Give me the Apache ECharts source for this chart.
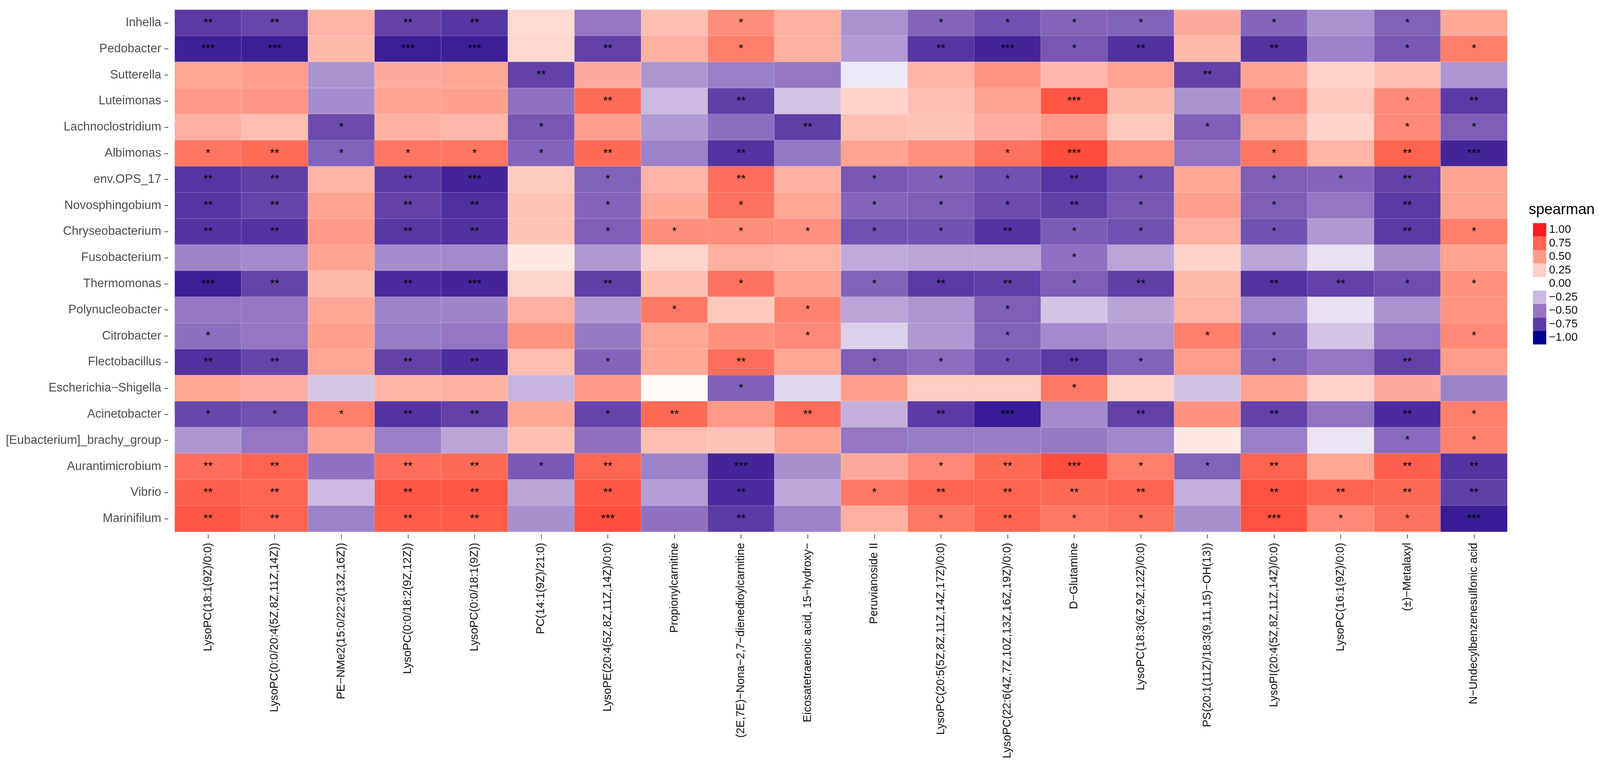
<!DOCTYPE html>
<html>
<head>
<meta charset="utf-8">
<script src="https://cdn.jsdelivr.net/npm/echarts@6/dist/echarts.min.js"></script>
<style>
  html, body { margin: 0; padding: 0; background: #fff; overflow: hidden; }
  #heatmap { width: 100vw; height: 100vh; }
</style>
</head>
<body>
<div id="heatmap"></div>
<script>
// metabolites along x, genera down y (top to bottom)
const metabolites = [
  'LysoPC(18:1(9Z)/0:0)', 'LysoPC(0:0/20:4(5Z,8Z,11Z,14Z))', 'PE−NMe2(15:0/22:2(13Z,16Z))',
  'LysoPC(0:0/18:2(9Z,12Z))', 'LysoPC(0:0/18:1(9Z))', 'PC(14:1(9Z)/21:0)',
  'LysoPE(20:4(5Z,8Z,11Z,14Z)/0:0)', 'Propionylcarnitine', '(2E,7E)−Nona−2,7−dienedioylcarnitine',
  'Eicosatetraenoic acid, 15−hydroxy−', 'Peruvianoside II', 'LysoPC(20:5(5Z,8Z,11Z,14Z,17Z)/0:0)',
  'LysoPC(22:6(4Z,7Z,10Z,13Z,16Z,19Z)/0:0)', 'D−Glutamine', 'LysoPC(18:3(6Z,9Z,12Z)/0:0)',
  'PS(20:1(11Z)/18:3(9,11,15)−OH(13))', 'LysoPI(20:4(5Z,8Z,11Z,14Z)/0:0)', 'LysoPC(16:1(9Z)/0:0)',
  '(±)−Metalaxyl', 'N−Undecylbenzenesulfonic acid'
];

const genera = [
  'Inhella', 'Pedobacter', 'Sutterella', 'Luteimonas', 'Lachnoclostridium', 'Albimonas',
  'env.OPS_17', 'Novosphingobium', 'Chryseobacterium', 'Fusobacterium', 'Thermomonas',
  'Polynucleobacter', 'Citrobacter', 'Flectobacillus', 'Escherichia−Shigella', 'Acinetobacter',
  '[Eubacterium]_brachy_group', 'Aurantimicrobium', 'Vibrio', 'Marinifilum'
];

// spearman rho, one row per genus
const rho = [
  [-0.75, -0.70, 0.38, -0.72, -0.77, 0.18, -0.50, 0.33, 0.56, 0.40, -0.40, -0.57, -0.66, -0.57, -0.58, 0.42, -0.57, -0.40, -0.58, 0.43],
  [-0.87, -0.88, 0.35, -0.88, -0.88, 0.20, -0.72, 0.40, 0.63, 0.40, -0.37, -0.77, -0.85, -0.63, -0.79, 0.35, -0.78, -0.46, -0.63, 0.63],
  [0.45, 0.48, -0.40, 0.42, 0.44, -0.72, 0.42, -0.39, -0.47, -0.50, -0.08, 0.38, 0.53, 0.36, 0.46, -0.72, 0.46, 0.23, 0.32, -0.39],
  [0.50, 0.52, -0.42, 0.46, 0.47, -0.52, 0.72, -0.25, -0.73, -0.21, 0.23, 0.33, 0.46, 0.82, 0.35, -0.40, 0.58, 0.28, 0.58, -0.75],
  [0.40, 0.33, -0.68, 0.39, 0.36, -0.63, 0.48, -0.38, -0.53, -0.73, 0.32, 0.31, 0.41, 0.50, 0.28, -0.59, 0.44, 0.23, 0.58, -0.60],
  [0.67, 0.72, -0.58, 0.67, 0.67, -0.57, 0.73, -0.46, -0.78, -0.49, 0.46, 0.54, 0.69, 0.86, 0.53, -0.51, 0.67, 0.38, 0.76, -0.85],
  [-0.77, -0.73, 0.38, -0.75, -0.85, 0.27, -0.58, 0.38, 0.71, 0.40, -0.63, -0.59, -0.66, -0.77, -0.66, 0.43, -0.60, -0.57, -0.72, 0.46],
  [-0.77, -0.71, 0.46, -0.72, -0.80, 0.31, -0.57, 0.43, 0.69, 0.44, -0.57, -0.60, -0.68, -0.73, -0.63, 0.47, -0.60, -0.50, -0.75, 0.46],
  [-0.78, -0.78, 0.50, -0.76, -0.79, 0.31, -0.60, 0.56, 0.56, 0.55, -0.66, -0.65, -0.78, -0.61, -0.66, 0.40, -0.65, -0.38, -0.75, 0.63],
  [-0.45, -0.43, 0.46, -0.42, -0.43, 0.10, -0.38, 0.22, 0.40, 0.38, -0.31, -0.33, -0.33, -0.52, -0.33, 0.23, -0.33, -0.10, -0.41, 0.46],
  [-0.88, -0.71, 0.35, -0.82, -0.85, 0.22, -0.73, 0.32, 0.69, 0.46, -0.58, -0.75, -0.73, -0.60, -0.73, 0.35, -0.78, -0.72, -0.67, 0.54],
  [-0.50, -0.50, 0.44, -0.46, -0.45, 0.40, -0.38, 0.66, 0.28, 0.61, -0.33, -0.39, -0.60, -0.21, -0.34, 0.38, -0.44, -0.10, -0.40, 0.53],
  [-0.53, -0.50, 0.47, -0.48, -0.50, 0.53, -0.49, 0.44, 0.54, 0.58, -0.16, -0.38, -0.58, -0.43, -0.39, 0.63, -0.58, -0.21, -0.50, 0.58],
  [-0.79, -0.71, 0.44, -0.72, -0.81, 0.33, -0.57, 0.43, 0.71, 0.44, -0.60, -0.54, -0.66, -0.75, -0.58, 0.49, -0.58, -0.50, -0.72, 0.49],
  [0.44, 0.41, -0.20, 0.37, 0.39, -0.27, 0.50, 0.03, -0.59, -0.14, 0.48, 0.26, 0.26, 0.66, 0.23, -0.22, 0.46, 0.23, 0.42, -0.46],
  [-0.69, -0.66, 0.63, -0.78, -0.72, 0.43, -0.71, 0.73, 0.51, 0.71, -0.29, -0.75, -0.89, -0.43, -0.72, 0.54, -0.72, -0.51, -0.82, 0.63],
  [-0.39, -0.50, 0.46, -0.47, -0.33, 0.32, -0.52, 0.33, 0.31, 0.46, -0.50, -0.48, -0.48, -0.49, -0.44, 0.10, -0.47, -0.09, -0.55, 0.61],
  [0.71, 0.76, -0.52, 0.71, 0.73, -0.62, 0.75, -0.46, -0.85, -0.41, 0.42, 0.58, 0.73, 0.86, 0.63, -0.58, 0.76, 0.44, 0.78, -0.78],
  [0.78, 0.75, -0.25, 0.82, 0.82, -0.33, 0.82, -0.36, -0.82, -0.32, 0.66, 0.76, 0.76, 0.73, 0.76, -0.29, 0.84, 0.76, 0.73, -0.73],
  [0.82, 0.76, -0.46, 0.79, 0.79, -0.41, 0.85, -0.52, -0.75, -0.46, 0.40, 0.66, 0.76, 0.66, 0.69, -0.41, 0.84, 0.58, 0.69, -0.89]
];

// significance marks, same layout as rho
const stars = [
  ['**', '**', '', '**', '**', '', '', '', '*', '', '', '*', '*', '*', '*', '', '*', '', '*', ''],
  ['***', '***', '', '***', '***', '', '**', '', '*', '', '', '**', '***', '*', '**', '', '**', '', '*', '*'],
  ['', '', '', '', '', '**', '', '', '', '', '', '', '', '', '', '**', '', '', '', ''],
  ['', '', '', '', '', '', '**', '', '**', '', '', '', '', '***', '', '', '*', '', '*', '**'],
  ['', '', '*', '', '', '*', '', '', '', '**', '', '', '', '', '', '*', '', '', '*', '*'],
  ['*', '**', '*', '*', '*', '*', '**', '', '**', '', '', '', '*', '***', '', '', '*', '', '**', '***'],
  ['**', '**', '', '**', '***', '', '*', '', '**', '', '*', '*', '*', '**', '*', '', '*', '*', '**', ''],
  ['**', '**', '', '**', '**', '', '*', '', '*', '', '*', '*', '*', '**', '*', '', '*', '', '**', ''],
  ['**', '**', '', '**', '**', '', '*', '*', '*', '*', '*', '*', '**', '*', '*', '', '*', '', '**', '*'],
  ['', '', '', '', '', '', '', '', '', '', '', '', '', '*', '', '', '', '', '', ''],
  ['***', '**', '', '**', '***', '', '**', '', '*', '', '*', '**', '**', '*', '**', '', '**', '**', '*', '*'],
  ['', '', '', '', '', '', '', '*', '', '*', '', '', '*', '', '', '', '', '', '', ''],
  ['*', '', '', '', '', '', '', '', '', '*', '', '', '*', '', '', '*', '*', '', '', '*'],
  ['**', '**', '', '**', '**', '', '*', '', '**', '', '*', '*', '*', '**', '*', '', '*', '', '**', ''],
  ['', '', '', '', '', '', '', '', '*', '', '', '', '', '*', '', '', '', '', '', ''],
  ['*', '*', '*', '**', '**', '', '*', '**', '', '**', '', '**', '***', '', '**', '', '**', '', '**', '*'],
  ['', '', '', '', '', '', '', '', '', '', '', '', '', '', '', '', '', '', '*', '*'],
  ['**', '**', '', '**', '**', '*', '**', '', '***', '', '', '*', '**', '***', '*', '*', '**', '', '**', '**'],
  ['**', '**', '', '**', '**', '', '**', '', '**', '', '*', '**', '**', '**', '**', '', '**', '**', '**', '**'],
  ['**', '**', '', '**', '**', '', '***', '', '**', '', '', '*', '**', '*', '*', '', '***', '*', '*', '***']
];

const legendValues = [1, 0.75, 0.5, 0.25, 0, -0.25, -0.5, -0.75, -1];
const legendLabels = ['1.00', '0.75', '0.50', '0.25', '0.00', '−0.25', '−0.50', '−0.75', '−1.00'];

// low = darkblue, mid = white, high = red; stops every 0.125 from -1 to 1
const scaleColors = [
  '#00008B', '#3E2096', '#5C3AA5', '#7858B4', '#9476C4', '#B09AD3', '#CBB9E0', '#E3DBEF',
  '#FFFFFF',
  '#FFE4DE', '#FFCFC6', '#FFB5A6', '#FF9A88', '#FF806C', '#FF6652', '#FF4A3A', '#F21E22'
];
const fontFamily = '"Liberation Sans", Arial, Helvetica, sans-serif';

let cells = [];
for (let i = 0; i < genera.length; i++) {
    for (let j = 0; j < metabolites.length; j++) {
        cells.push([j, i, rho[i][j]]);
    }
}

let chart = echarts.init(document.getElementById('heatmap'));

// layout was measured on a 4193 x 1986 picture; follow the real window size
let sx = chart.getWidth() / 4193;
let sy = chart.getHeight() / 1986;

let option = {
    animation: false,
    backgroundColor: '#ffffff',
    textStyle: { fontFamily: fontFamily },
    title: {
        text: 'spearman',
        left: 4001 * sx,
        top: 514 * sy,
        textStyle: { fontFamily: fontFamily, fontSize: 38, fontWeight: 'normal', color: '#000' }
    },
    grid: { left: 458 * sx, right: 243 * sx, top: 25 * sy, bottom: 625 * sy },
    xAxis: {
        type: 'category',
        data: metabolites,
        offset: 7 * sy,
        axisLine: { show: false },
        axisTick: { show: true, alignWithLabel: true, interval: 0, length: 10, lineStyle: { color: '#555', width: 2 } },
        axisLabel: { rotate: 90, interval: 0, margin: 21, fontSize: 29, color: '#111', fontFamily: fontFamily },
        splitLine: { show: false }
    },
    yAxis: {
        type: 'category',
        data: genera,
        inverse: true,
        offset: 17 * sx,
        axisLine: { show: false },
        axisTick: { show: true, alignWithLabel: true, interval: 0, length: 10, lineStyle: { color: '#555', width: 2 } },
        axisLabel: { interval: 0, margin: 18, fontSize: 31, color: '#4d4d4d', fontFamily: fontFamily },
        splitLine: { show: false }
    },
    visualMap: [
        {
            type: 'continuous',
            show: false,
            seriesIndex: 0,
            min: -1,
            max: 1,
            inRange: { color: scaleColors }
        },
        {
            type: 'piecewise',
            seriesIndex: 1,
            orient: 'vertical',
            align: 'left',
            left: 4002 * sx,
            top: 556 * sy,
            itemWidth: 34,
            itemHeight: 34.5,
            itemGap: 0,
            itemSymbol: 'rect',
            textGap: 7,
            selectedMode: false,
            pieces: legendValues.map((v, k) => ({
                value: v,
                label: legendLabels[k],
                color: scaleColors[Math.round((v + 1) * 8)]
            })),
            textStyle: { fontSize: 29, color: '#111', fontFamily: fontFamily }
        }
    ],
    series: [
        {
            type: 'heatmap',
            data: cells,
            itemStyle: { borderColor: 'rgba(255,255,255,0.3)', borderWidth: 1 },
            label: {
                show: true,
                fontSize: 30,
                color: '#000',
                fontFamily: fontFamily,
                formatter: function (p) { return stars[p.value[1]][p.value[0]]; }
            },
            emphasis: { disabled: true }
        },
        { type: 'scatter', data: [], silent: true }
    ]
};

chart.setOption(option);
</script>
</body>
</html>
